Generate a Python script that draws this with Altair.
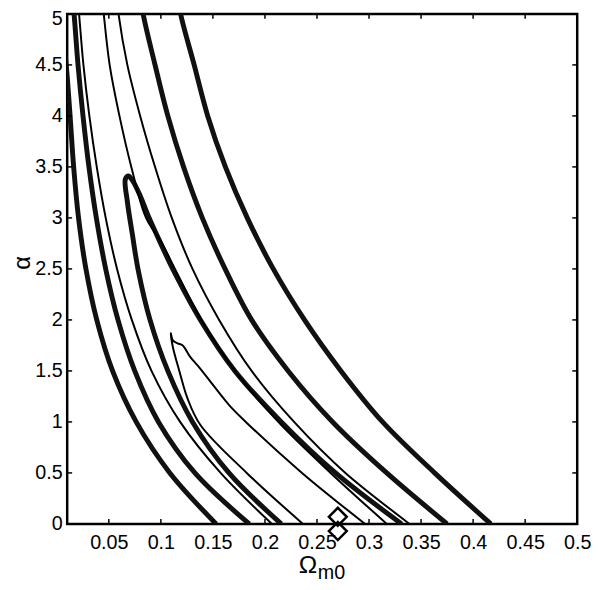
import altair as alt
import pandas as pd

# ---- axis ticks ----
x_ticks = [0.05, 0.1, 0.15, 0.2, 0.25, 0.3, 0.35, 0.4, 0.45, 0.5]
y_ticks = [0, 0.5, 1, 1.5, 2, 2.5, 3, 3.5, 4, 4.5, 5]

# ---- contour curves (Omega_m0, alpha) ----
t1_x = [0.0081, 0.010, 0.0128, 0.0162, 0.0209, 0.028, 0.0384, 0.0536, 0.0763, 0.1086, 0.1531]
t1_y = [4.60, 4.39, 4.00, 3.50, 3.00, 2.50, 2.00, 1.50, 1.00, 0.50, 0.0]

t2_x = [0.0155, 0.0166, 0.0204, 0.0252, 0.0309, 0.038, 0.047, 0.0588, 0.0749, 0.0977, 0.1327, 0.1849]
t2_y = [5.10, 5.00, 4.50, 4.00, 3.50, 3.00, 2.50, 2.00, 1.50, 1.00, 0.50, 0.0]

t3_x = [0.0205, 0.0214, 0.0256, 0.0313, 0.0384, 0.047, 0.0579, 0.0721, 0.091, 0.1185, 0.1574, 0.2067]
t3_y = [5.10, 5.00, 4.50, 4.00, 3.50, 3.00, 2.50, 2.00, 1.50, 1.00, 0.50, 0.0]

loop_x = [0.2157, 0.1654, 0.1304, 0.1067, 0.0896, 0.0782, 0.0726, 0.0678, 0.0659, 0.0688,
          0.0725, 0.080, 0.0875, 0.0985, 0.1114, 0.138, 0.1711, 0.2157, 0.2678, 0.3313]
loop_y = [0.0, 0.50, 1.00, 1.50, 2.00, 2.49, 2.84, 3.16, 3.38, 3.41,
          3.37, 3.22, 3.03, 2.78, 2.50, 2.00, 1.50, 1.00, 0.50, 0.0]

t4_x = [0.0440, 0.0451, 0.0508, 0.0602, 0.0716, 0.0858, 0.1012, 0.1135, 0.139, 0.1712, 0.2128, 0.2631, 0.3171]
t4_y = [5.10, 5.00, 4.50, 4.00, 3.50, 3.00, 2.75, 2.50, 2.00, 1.50, 1.00, 0.50, 0.0]

t5_x = [0.0583, 0.0593, 0.0678, 0.0801, 0.0944, 0.1105, 0.1304, 0.156, 0.1872, 0.228, 0.2773, 0.3389]
t5_y = [5.10, 5.00, 4.50, 4.00, 3.50, 3.00, 2.50, 2.00, 1.50, 1.00, 0.50, 0.0]

small_x = [0.2365, 0.1825, 0.138, 0.1256, 0.118, 0.1114, 0.1095,
           0.1115, 0.116, 0.121, 0.128, 0.138, 0.151, 0.166, 0.1816, 0.2356, 0.2962]
small_y = [0.0, 0.50, 0.97, 1.23, 1.49, 1.74, 1.87,
           1.80, 1.77, 1.75, 1.64, 1.52, 1.35, 1.16, 1.00, 0.50, 0.0]

t6_x = [0.082, 0.083, 0.0944, 0.1067, 0.1218, 0.1398, 0.1617, 0.1872, 0.2223, 0.265, 0.317, 0.375]
t6_y = [5.10, 5.00, 4.50, 4.00, 3.50, 3.00, 2.50, 2.00, 1.50, 1.00, 0.50, 0.0]

t7_x = [0.118, 0.119, 0.132, 0.145, 0.162, 0.183, 0.208, 0.238, 0.273, 0.313, 0.363, 0.417]
t7_y = [5.10, 5.00, 4.50, 4.00, 3.50, 3.00, 2.50, 2.00, 1.50, 1.00, 0.50, 0.0]

# best-fit markers
best_x = [0.27, 0.27]
best_y = [0.07, -0.07]

curves = [
    ("t1", t1_x, t1_y, "thick"),
    ("t2", t2_x, t2_y, "thick"),
    ("t3", t3_x, t3_y, "thin"),
    ("loop", loop_x, loop_y, "thick"),
    ("t4", t4_x, t4_y, "thin"),
    ("t5", t5_x, t5_y, "thin"),
    ("small", small_x, small_y, "thin"),
    ("t6", t6_x, t6_y, "thick"),
    ("t7", t7_x, t7_y, "thick"),
]
rows = []
for name, xs_, ys_, kind in curves:
    for i, (a, b) in enumerate(zip(xs_, ys_)):
        rows.append({"curve": name, "i": i, "x": a, "y": b, "kind": kind})
df = pd.DataFrame(rows)

W = H = 517
FONT = "Liberation Sans"
xsc = alt.Scale(domain=[0.01, 0.5], nice=False, zero=False)
ysc = alt.Scale(domain=[0, 5], nice=False, zero=False)

x_axis = alt.Axis(values=x_ticks, format="~g", title=None, domain=False, ticks=False, grid=False,
                  labelFontSize=20, labelFont=FONT, labelColor="black", labelPadding=9,
                  labelOverlap=False, labelFlush=False)
y_axis = alt.Axis(values=y_ticks, format="~g", title="α", domain=False, ticks=False, grid=False,
                  labelFontSize=20, labelFont=FONT, labelColor="black", labelPadding=5,
                  labelOverlap=False, labelFlush=False,
                  labelOffset={"condition": {"test": "datum.value == 5", "value": 5}, "value": 0},
                  titleFontSize=24, titleFont=FONT, titleFontWeight="normal", titleColor="black",
                  titleX=-45, titleY=252, titleAlign="center", titleBaseline="middle")


def X(field):
    return alt.X(field, scale=xsc, axis=x_axis)


def Y(field):
    return alt.Y(field, scale=ysc, axis=y_axis)


base = alt.Chart(df)
thick = base.transform_filter(alt.datum.kind == "thick").mark_line(
    color="#111111", strokeWidth=5, interpolate="catmull-rom", clip=True
).encode(x=X("x:Q"), y=Y("y:Q"), detail="curve:N", order="i:Q")
thin = base.transform_filter(alt.datum.kind == "thin").mark_line(
    color="black", strokeWidth=2, interpolate="catmull-rom", clip=True
).encode(x=X("x:Q"), y=Y("y:Q"), detail="curve:N", order="i:Q")

xt = pd.DataFrame({"x": x_ticks})
yt = pd.DataFrame({"y": y_ticks})
tick_style = dict(color="black", strokeWidth=1.5)
xb = alt.Chart(xt).mark_rule(**tick_style).encode(x=X("x:Q"), y=alt.value(H), y2=alt.value(H - 5))
xtop = alt.Chart(xt).mark_rule(**tick_style).encode(x=X("x:Q"), y=alt.value(0), y2=alt.value(5))
yl = alt.Chart(yt).mark_rule(**tick_style).encode(y=Y("y:Q"), x=alt.value(0), x2=alt.value(5))
yr = alt.Chart(yt).mark_rule(**tick_style).encode(y=Y("y:Q"), x=alt.value(W), x2=alt.value(W - 5))

best = alt.Chart(pd.DataFrame({"x": best_x, "y": best_y})).mark_point(
    shape="diamond", filled=False, size=330, strokeWidth=2.5, color="black", opacity=1, clip=False
).encode(x=X("x:Q"), y=Y("y:Q"))

omega = alt.Chart(pd.DataFrame({"t": ["Ω"]})).mark_text(
    font=FONT, fontSize=25, align="center", baseline="alphabetic", color="black"
).encode(text="t:N", x=alt.value(244), y=alt.value(567))
sub = alt.Chart(pd.DataFrame({"t": ["m0"]})).mark_text(
    font=FONT, fontSize=20, align="left", baseline="alphabetic", color="black"
).encode(text="t:N", x=alt.value(254), y=alt.value(573))

chart = alt.layer(thick, thin, xb, xtop, yl, yr, best, omega, sub).properties(
    width=W, height=H,
    autosize=alt.AutoSizeParams(type="none"),
    padding={"left": 60, "top": 2, "right": 15, "bottom": 63},
    background="white",
).configure_view(stroke="black", strokeWidth=2.5)

chart.save("out.html", embed_options={"renderer": "svg", "actions": False})
